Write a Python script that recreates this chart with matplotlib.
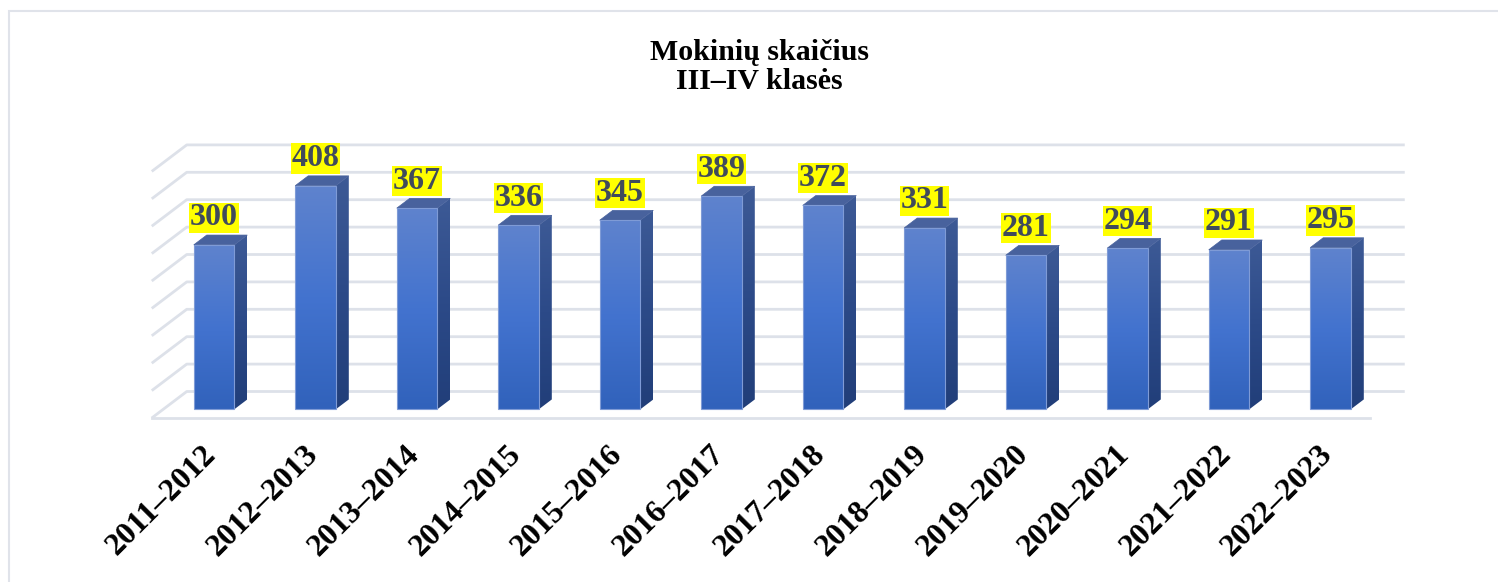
import numpy as np
import matplotlib
matplotlib.use("Agg")
from matplotlib import pyplot as plt
from matplotlib.patches import Polygon, Rectangle
from matplotlib.colors import LinearSegmentedColormap

# data
years = ["2011–2012", "2012–2013", "2013–2014", "2014–2015", "2015–2016", "2016–2017",
         "2017–2018", "2018–2019", "2019–2020", "2020–2021", "2021–2022", "2022–2023"]
students = [300, 408, 367, 336, 345, 389, 372, 331, 281, 294, 291, 295]
grid_values = list(range(0, 451, 50))

W, H = 1498, 582
fig = plt.figure(figsize=(W / 100, H / 100), dpi=100)

# pixel layout of the fake 3D plot
px_x0, px_sx = 202.5, 101.5     # category 0 centre at front floor, px per category
px_y0, px_sy = 418.0, 0.548     # value 0 at front floor, px per value unit
xlim = (-0.8, 12.0)
ylim = (-25, 540)
left = px_x0 + px_sx * xlim[0]
right = px_x0 + px_sx * xlim[1]
bottom = px_y0 - px_sy * ylim[0]
top = px_y0 - px_sy * ylim[1]
ax = fig.add_axes([left / W, 1 - bottom / H, (right - left) / W, (bottom - top) / H])
ax.set_xlim(*xlim)
ax.set_ylim(*ylim)
ax.axis("off")

DX = 35 / px_sx          # full floor depth in category units
DV = 26.5 / px_sy        # full floor depth in value units


def proj(x, v, d):
    return (x + DX * d, v + DV * d)


grid_c = "#dde1e9"
for g in grid_values:
    xs, ys = zip(proj(-0.5, g, 0), proj(-0.5, g, 1), proj(11.5, g, 1))
    ax.plot(xs, ys, color=grid_c, lw=2, solid_capstyle="butt", zorder=1)
xs, ys = zip(proj(-0.5, 0, 0), proj(11.5, 0, 0))
ax.plot(xs, ys, color=grid_c, lw=2, zorder=1)

front_cmap = LinearSegmentedColormap.from_list("f", ["#3162bb", "#4373cf", "#5f83cd"])
side_cmap = LinearSegmentedColormap.from_list("s", ["#213e79", "#2c4a88", "#3d5a96"])
grad = np.linspace(0, 1, 256).reshape(-1, 1)

bw = 0.4
d0, d1 = 0.33, 0.70
for i, v in enumerate(students):
    xl, xr = i - bw / 2, i + bw / 2
    front = [proj(xl, 0, d0), proj(xr, 0, d0), proj(xr, v, d0), proj(xl, v, d0)]
    side = [proj(xr, 0, d0), proj(xr, 0, d1), proj(xr, v, d1), proj(xr, v, d0)]
    topf = [proj(xl, v, d0), proj(xr, v, d0), proj(xr, v, d1), proj(xl, v, d1)]

    p = Polygon(front, closed=True, facecolor="none", edgecolor="#7f9bd6", lw=0.8, zorder=4)
    ax.add_patch(p)
    im = ax.imshow(grad, cmap=front_cmap, origin="lower", aspect="auto", zorder=3,
                   extent=(front[0][0], front[1][0], front[0][1], front[2][1]))
    im.set_clip_path(p)

    ps = Polygon(side, closed=True, facecolor="none", edgecolor="none", zorder=3)
    ax.add_patch(ps)
    ims = ax.imshow(grad, cmap=side_cmap, origin="lower", aspect="auto", zorder=3,
                    extent=(side[0][0], side[1][0], side[0][1], side[2][1]))
    ims.set_clip_path(ps)

    ax.add_patch(Polygon(topf, closed=True, facecolor="#48629d", edgecolor="#48629d",
                         lw=0.5, zorder=3))

    cx, _ = proj(i, 0, d0)
    ax.text(cx, v + DV * d1 + 5, str(v), ha="center", va="bottom", fontsize=23,
            fontweight="bold", family="Liberation Serif", color="#404b5c", zorder=5,
            bbox=dict(boxstyle="square,pad=0.02", facecolor="#ffff00", edgecolor="none"))

    ax.text(cx - 0.02, -59, years[i], rotation=45, rotation_mode="anchor", ha="right",
            va="center", fontsize=23, fontweight="bold", family="Liberation Serif",
            color="black")

# titles
fig.text(759 / W, 1 - 60 / H, "Mokinių skaičius", ha="center", va="baseline",
         fontsize=21.5, fontweight="bold", family="Liberation Serif")
fig.text(759 / W, 1 - 89 / H, "III–IV klasės", ha="center", va="baseline",
         fontsize=21.5, fontweight="bold", family="Liberation Serif")

# outer frame
fig.patches.append(Rectangle((9 / W, -0.1), 1.2, 1 - 11 / H + 0.1, transform=fig.transFigure,
                             fill=False, edgecolor="#e0e3ea", lw=1.5))

fig.savefig("out.png", dpi=100)
